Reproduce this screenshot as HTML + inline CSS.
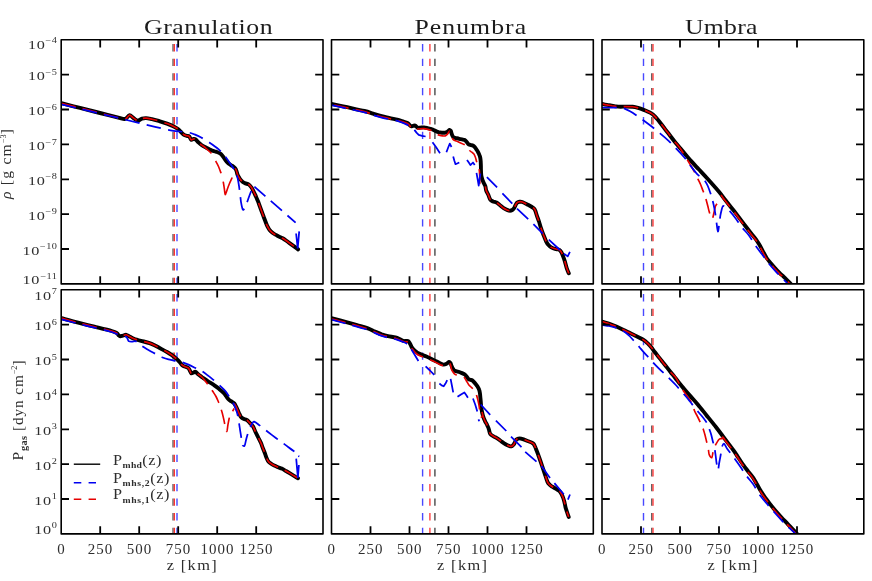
<!DOCTYPE html>
<html><head><meta charset="utf-8"><title>plot</title>
<style>html,body{margin:0;padding:0;background:#fff;}svg{display:block;will-change:transform;}</style></head>
<body>
<svg width="872" height="581" viewBox="0 0 872 581">
<rect width="872" height="581" fill="#fff"/>
<defs>
<clipPath id="c00"><rect x="61.2" y="39.8" width="261.8" height="244.1"/></clipPath>
<clipPath id="c01"><rect x="61.2" y="289.8" width="261.8" height="244.1"/></clipPath>
<clipPath id="c10"><rect x="331.5" y="39.8" width="261.8" height="244.1"/></clipPath>
<clipPath id="c11"><rect x="331.5" y="289.8" width="261.8" height="244.1"/></clipPath>
<clipPath id="c20"><rect x="602.0" y="39.8" width="261.8" height="244.1"/></clipPath>
<clipPath id="c21"><rect x="602.0" y="289.8" width="261.8" height="244.1"/></clipPath>
</defs>
<g clip-path="url(#c00)" fill="none" stroke-linejoin="round">
<path d="M173.0,44.1 V283.9" stroke="#5a5a5a" stroke-width="1.3" stroke-dasharray="7.3 7.3"/>
<path d="M174.3,44.1 V283.9" stroke="#ff1a1a" stroke-width="1.2" stroke-dasharray="7.3 7.3"/>
<path d="M177.0,44.1 V283.9" stroke="#4848ff" stroke-width="1.4" stroke-dasharray="7.3 7.3"/>
<path d="M61.4,103.2 C64.5,104.0 73.6,106.3 80.0,107.9 C86.4,109.5 93.3,111.3 100.0,113.0 C106.7,114.7 116.2,117.2 120.3,118.2 C124.4,119.2 123.5,119.0 124.5,119.0 C125.5,119.0 125.5,119.1 126.3,118.4 C127.1,117.8 128.5,115.2 129.6,115.1 C130.7,115.0 131.9,116.8 133.0,117.6 C134.1,118.4 135.2,119.4 136.0,119.9 C136.8,120.5 137.3,120.9 137.9,120.9 C138.5,120.9 138.8,120.4 139.5,120.0 C140.2,119.6 140.9,118.9 142.0,118.6 C143.1,118.3 144.4,118.0 146.1,118.1 C147.8,118.2 149.7,118.7 152.0,119.2 C154.3,119.7 157.4,120.6 159.9,121.3 C162.4,122.0 164.7,122.7 167.0,123.6 C169.3,124.5 171.9,125.6 173.7,126.5 C175.5,127.4 176.9,128.2 178.0,129.0 C179.1,129.8 179.5,130.5 180.5,131.5 C181.5,132.5 182.9,134.1 184.0,134.8 C185.1,135.5 186.0,135.5 186.9,135.8 C187.8,136.1 188.5,135.7 189.2,136.4 C189.9,137.1 190.5,139.4 191.2,139.8 C191.9,140.2 192.8,139.1 193.5,139.0 C194.2,138.9 194.8,138.8 195.5,139.3 C196.2,139.8 197.0,141.1 198.0,142.0 C199.0,142.9 200.2,144.1 201.5,145.0 C202.8,145.9 204.4,146.7 206.0,147.5 C207.6,148.3 209.3,149.4 211.0,150.1 C212.7,150.8 214.4,151.1 216.0,151.7 C217.6,152.3 219.2,152.8 220.4,153.6 C221.6,154.4 222.1,155.4 223.0,156.5 C223.9,157.6 224.8,159.3 225.6,160.4 C226.4,161.5 227.1,162.2 228.0,163.0 C228.9,163.8 230.0,164.5 230.8,165.1 C231.6,165.7 232.3,165.8 233.0,166.3 C233.7,166.8 234.5,167.4 235.1,168.2 C235.7,169.0 236.1,169.8 236.5,171.0 C236.9,172.2 237.1,173.8 237.7,175.1 C238.3,176.4 239.2,177.8 240.0,179.0 C240.8,180.2 241.9,181.3 242.8,182.0 C243.7,182.7 244.5,183.0 245.5,183.4 C246.5,183.8 247.8,183.8 248.8,184.5 C249.8,185.2 250.6,186.2 251.5,187.5 C252.4,188.8 253.2,190.8 254.0,192.3 C254.8,193.8 255.3,195.1 256.0,196.6 C256.6,198.1 257.2,199.4 257.9,201.1 C258.6,202.8 259.3,205.0 260.0,206.8 C260.7,208.7 261.3,210.4 262.0,212.2 C262.7,214.0 263.3,215.9 264.0,217.7 C264.7,219.5 265.5,221.6 266.1,223.2 C266.7,224.8 267.2,225.9 267.8,227.0 C268.4,228.1 268.8,229.0 269.6,230.0 C270.4,231.0 271.5,232.0 272.5,232.8 C273.5,233.6 274.7,234.3 275.8,234.9 C276.9,235.5 277.9,236.0 279.0,236.6 C280.1,237.2 281.5,237.7 282.7,238.3 C283.9,239.0 284.9,239.7 286.0,240.5 C287.1,241.3 287.5,241.6 289.5,243.1 C291.5,244.6 296.7,248.3 298.1,249.4" stroke="#000" stroke-width="3.9" stroke-linecap="round"/>
<path d="M61.4,103.2 C64.5,104.0 73.6,106.3 80.0,107.9 C86.4,109.5 93.3,111.3 100.0,113.0 C106.7,114.7 116.2,117.2 120.3,118.2 C124.4,119.2 123.5,119.0 124.5,119.0 C125.5,119.0 125.5,119.1 126.3,118.4 C127.1,117.8 128.5,115.2 129.6,115.1 C130.7,115.0 131.9,116.8 133.0,117.6 C134.1,118.4 135.2,119.4 136.0,119.9 C136.8,120.5 137.3,120.9 137.9,120.9 C138.5,120.9 138.8,120.4 139.5,120.0 C140.2,119.6 140.9,118.9 142.0,118.6 C143.1,118.3 144.4,118.0 146.1,118.1 C147.8,118.2 149.7,118.7 152.0,119.2 C154.3,119.7 157.4,120.6 159.9,121.3 C162.4,122.0 164.7,122.7 167.0,123.6 C169.3,124.5 171.9,125.6 173.7,126.5 C175.5,127.4 176.9,128.2 178.0,129.0 C179.1,129.8 179.5,130.5 180.5,131.5 C181.5,132.5 182.9,134.1 184.0,134.8 C185.1,135.5 186.0,135.5 186.9,135.8 C187.8,136.1 188.5,135.7 189.2,136.4 C189.9,137.1 190.5,139.4 191.2,139.8 C191.9,140.2 192.8,139.1 193.5,139.0 C194.2,138.9 194.8,138.8 195.5,139.3 C196.2,139.8 197.0,141.1 198.0,142.0 C199.0,142.9 200.9,144.5 201.5,145.0" stroke="#e60000" stroke-width="1.65" stroke-dasharray="14.6 7.3" stroke-dashoffset="0"/>
<path d="M235.1,168.2 C235.3,168.7 236.1,169.8 236.5,171.0 C236.9,172.2 237.1,173.8 237.7,175.1 C238.3,176.4 239.2,177.8 240.0,179.0 C240.8,180.2 241.9,181.3 242.8,182.0 C243.7,182.7 244.5,183.0 245.5,183.4 C246.5,183.8 247.8,183.8 248.8,184.5 C249.8,185.2 250.6,186.2 251.5,187.5 C252.4,188.8 253.2,190.8 254.0,192.3 C254.8,193.8 255.3,195.1 256.0,196.6 C256.6,198.1 257.2,199.4 257.9,201.1 C258.6,202.8 259.3,205.0 260.0,206.8 C260.7,208.7 261.3,210.4 262.0,212.2 C262.7,214.0 263.3,215.9 264.0,217.7 C264.7,219.5 265.5,221.6 266.1,223.2 C266.7,224.8 267.2,225.9 267.8,227.0 C268.4,228.1 268.8,229.0 269.6,230.0 C270.4,231.0 271.5,232.0 272.5,232.8 C273.5,233.6 274.7,234.3 275.8,234.9 C276.9,235.5 277.9,236.0 279.0,236.6 C280.1,237.2 281.5,237.7 282.7,238.3 C283.9,239.0 284.9,239.7 286.0,240.5 C287.1,241.3 287.5,241.6 289.5,243.1 C291.5,244.6 296.7,248.3 298.1,249.4" stroke="#e60000" stroke-width="1.65" stroke-dasharray="14.6 7.3" stroke-dashoffset="0"/>
<path d="M201.5,144.9 C202.2,145.5 204.3,146.9 206.0,148.3 C207.7,149.7 210.6,152.6 211.5,153.4 M215.6,161.0 C216.1,161.9 217.6,164.4 218.5,166.5 C219.4,168.6 220.7,172.2 221.1,173.3 M223.2,181.6 C223.4,182.8 224.0,186.3 224.3,188.5 C224.7,190.7 224.8,194.6 225.3,194.7 C225.8,194.8 226.6,191.1 227.3,189.2 C228.0,187.2 228.9,184.9 229.7,183.0 C230.5,181.1 231.8,178.4 232.2,177.5" stroke="#e60000" stroke-width="1.65"/>
<path d="M61.4,104.4 C64.5,105.1 73.6,107.3 80.0,108.8 C86.4,110.3 93.3,112.0 100.0,113.6 C106.7,115.2 113.3,116.8 120.0,118.4 C126.7,120.0 134.2,121.9 140.0,123.3 C145.8,124.7 150.8,125.8 155.0,126.8 C159.2,127.8 161.9,128.5 165.0,129.2 C168.1,129.9 171.2,130.4 173.7,130.8 C176.2,131.2 177.5,131.2 180.0,131.5 C182.5,131.8 186.3,132.1 188.6,132.5 C190.9,132.9 192.0,133.4 194.0,134.2 C196.0,135.0 198.1,135.8 200.7,137.2 C203.2,138.6 206.3,140.4 209.3,142.4 C212.3,144.4 216.0,146.9 218.7,149.3 C221.4,151.7 223.4,154.3 225.6,157.0 C227.8,159.7 230.0,163.3 231.6,165.6 C233.2,167.9 234.1,169.4 235.0,171.0 C235.9,172.6 236.3,173.4 236.8,175.1 C237.3,176.8 237.8,178.7 238.2,181.0 C238.6,183.3 239.1,186.3 239.4,188.8 C239.8,191.3 240.0,193.7 240.3,196.0 C240.6,198.3 240.7,200.3 241.1,202.6 C241.5,204.8 242.2,208.6 242.8,209.5 C243.4,210.4 244.0,209.1 244.6,208.3 C245.2,207.5 245.7,205.9 246.2,204.6 C246.7,203.3 247.2,201.9 247.7,200.5 C248.2,199.1 248.7,197.6 249.3,196.0 C249.9,194.4 250.9,191.8 251.2,191.0" stroke="#0000f0" stroke-width="1.75" stroke-dasharray="14.6 7.3" stroke-dashoffset="0"/>
<path d="M254.4,186.7 C256.2,188.3 260.9,192.3 265.5,196.3 C270.1,200.3 277.0,206.3 282.0,210.7 C287.0,215.1 293.3,220.7 295.6,222.7" stroke="#0000f0" stroke-width="1.75" stroke-dasharray="14.6 7.3" stroke-dashoffset="0"/>
<path d="M296.1,233.5 L297.7,248.4 M299.2,231.4 L297.7,248.4" stroke="#0000f0" stroke-width="1.75"/>
</g>
<g clip-path="url(#c01)" fill="none" stroke-linejoin="round">
<path d="M173.0,294.1 V533.9" stroke="#5a5a5a" stroke-width="1.3" stroke-dasharray="7.3 7.3"/>
<path d="M174.3,294.1 V533.9" stroke="#ff1a1a" stroke-width="1.2" stroke-dasharray="7.3 7.3"/>
<path d="M177.0,294.1 V533.9" stroke="#4848ff" stroke-width="1.4" stroke-dasharray="7.3 7.3"/>
<path d="M61.4,318.1 C64.0,318.8 71.7,321.0 77.2,322.4 C82.7,323.8 88.7,325.3 94.4,326.7 C100.2,328.1 108.0,329.9 111.7,331.0 C115.4,332.1 115.7,332.4 116.8,333.1 C117.9,333.8 117.9,334.7 118.5,335.2 C119.1,335.7 119.5,336.1 120.3,336.2 C121.0,336.3 122.0,335.8 123.0,335.6 C124.0,335.4 125.1,334.6 126.3,334.8 C127.5,335.0 128.7,336.2 130.0,336.8 C131.3,337.4 132.2,338.0 134.0,338.7 C135.8,339.4 138.4,340.1 141.0,340.8 C143.6,341.5 147.2,342.3 149.5,343.1 C151.8,343.9 153.0,344.6 155.0,345.6 C157.0,346.6 159.6,348.0 161.6,349.1 C163.6,350.2 165.3,351.0 167.0,352.0 C168.7,353.0 170.5,354.1 171.9,355.1 C173.3,356.1 174.3,357.0 175.5,358.0 C176.7,359.0 177.9,360.1 178.8,361.1 C179.7,362.1 180.3,363.0 181.0,363.8 C181.7,364.6 182.3,365.3 183.1,365.8 C183.9,366.3 184.7,366.4 185.6,366.8 C186.5,367.2 187.6,367.4 188.3,368.0 C189.0,368.6 189.3,369.6 189.8,370.5 C190.3,371.4 190.6,372.9 191.2,373.3 C191.8,373.7 192.7,372.9 193.4,372.6 C194.1,372.4 194.7,371.5 195.5,371.8 C196.3,372.1 197.3,373.6 198.5,374.5 C199.7,375.4 200.8,376.4 202.4,377.5 C204.0,378.6 206.0,380.0 208.0,381.3 C210.0,382.6 212.6,384.1 214.4,385.3 C216.2,386.6 217.4,387.5 219.0,388.8 C220.6,390.1 222.7,391.8 223.9,393.0 C225.1,394.2 225.3,395.0 226.0,396.0 C226.7,397.0 227.4,398.1 228.2,399.0 C229.0,399.9 230.0,400.5 231.0,401.2 C232.0,401.9 233.4,402.5 234.2,403.4 C235.0,404.3 235.4,405.4 236.0,406.5 C236.6,407.6 237.1,408.9 237.7,410.2 C238.3,411.4 238.8,412.9 239.4,414.0 C240.0,415.1 240.3,416.3 241.1,417.1 C241.9,417.9 243.0,418.5 244.0,419.0 C245.0,419.5 246.1,419.5 247.1,420.2 C248.1,420.9 249.0,422.0 250.0,423.1 C251.0,424.2 252.2,425.1 253.1,426.6 C254.0,428.1 254.7,430.3 255.5,432.0 C256.3,433.7 257.1,435.1 258.0,437.0 C258.9,438.9 260.2,441.2 261.0,443.1 C261.8,445.0 262.3,446.7 263.0,448.5 C263.7,450.3 264.6,452.4 265.2,454.1 C265.8,455.8 266.2,457.2 266.8,458.5 C267.4,459.8 267.8,460.8 268.6,461.7 C269.4,462.6 270.5,463.3 271.5,464.0 C272.5,464.7 273.7,465.3 274.8,465.8 C275.9,466.3 276.9,466.7 278.0,467.2 C279.1,467.7 280.4,468.0 281.7,468.6 C283.0,469.2 284.6,470.2 286.0,471.0 C287.4,471.8 288.7,472.6 290.0,473.4 C291.3,474.2 292.7,475.0 294.0,475.8 C295.3,476.6 297.3,477.8 298.0,478.2" stroke="#000" stroke-width="3.9" stroke-linecap="round"/>
<path d="M61.4,318.1 C64.0,318.8 71.7,321.0 77.2,322.4 C82.7,323.8 88.7,325.3 94.4,326.7 C100.2,328.1 108.0,329.9 111.7,331.0 C115.4,332.1 115.7,332.4 116.8,333.1 C117.9,333.8 117.9,334.7 118.5,335.2 C119.1,335.7 119.5,336.1 120.3,336.2 C121.0,336.3 122.0,335.8 123.0,335.6 C124.0,335.4 125.1,334.6 126.3,334.8 C127.5,335.0 128.7,336.2 130.0,336.8 C131.3,337.4 132.2,338.0 134.0,338.7 C135.8,339.4 138.4,340.1 141.0,340.8 C143.6,341.5 147.2,342.3 149.5,343.1 C151.8,343.9 153.0,344.6 155.0,345.6 C157.0,346.6 159.6,348.0 161.6,349.1 C163.6,350.2 165.3,351.0 167.0,352.0 C168.7,353.0 170.5,354.1 171.9,355.1 C173.3,356.1 174.3,357.0 175.5,358.0 C176.7,359.0 177.9,360.1 178.8,361.1 C179.7,362.1 180.3,363.0 181.0,363.8 C181.7,364.6 182.3,365.3 183.1,365.8 C183.9,366.3 184.7,366.4 185.6,366.8 C186.5,367.2 187.6,367.4 188.3,368.0 C189.0,368.6 189.3,369.6 189.8,370.5 C190.3,371.4 190.6,372.9 191.2,373.3 C191.8,373.7 192.7,372.9 193.4,372.6 C194.1,372.4 194.7,371.5 195.5,371.8 C196.3,372.1 197.3,373.6 198.5,374.5 C199.7,375.4 200.9,375.9 202.4,377.5 C203.9,379.1 205.8,381.7 207.5,384.0 C209.2,386.3 211.3,389.2 212.7,391.3 C214.1,393.4 215.0,394.6 216.0,396.5 C217.0,398.4 217.9,400.7 218.7,402.5 C219.4,404.3 219.9,405.8 220.5,407.5 C221.1,409.2 221.7,410.9 222.2,412.8 C222.7,414.7 223.2,416.9 223.7,419.0 C224.2,421.1 224.6,423.6 225.1,425.7 C225.6,427.8 226.3,431.6 226.8,431.5 C227.3,431.4 227.5,427.1 227.9,425.0 C228.3,422.9 228.7,420.6 229.1,418.8 C229.5,417.1 230.0,415.7 230.6,414.5 C231.2,413.3 231.8,412.5 232.4,411.5 C233.0,410.5 233.9,409.0 234.2,408.5" stroke="#e60000" stroke-width="1.65" stroke-dasharray="14.6 7.3" stroke-dashoffset="0"/>
<path d="M234.2,403.4 C234.5,403.9 235.4,405.4 236.0,406.5 C236.6,407.6 237.1,408.9 237.7,410.2 C238.3,411.4 238.8,412.9 239.4,414.0 C240.0,415.1 240.3,416.3 241.1,417.1 C241.9,417.9 243.0,418.5 244.0,419.0 C245.0,419.5 246.1,419.5 247.1,420.2 C248.1,420.9 249.0,422.0 250.0,423.1 C251.0,424.2 252.2,425.1 253.1,426.6 C254.0,428.1 254.7,430.3 255.5,432.0 C256.3,433.7 257.1,435.1 258.0,437.0 C258.9,438.9 260.2,441.2 261.0,443.1 C261.8,445.0 262.3,446.7 263.0,448.5 C263.7,450.3 264.6,452.4 265.2,454.1 C265.8,455.8 266.2,457.2 266.8,458.5 C267.4,459.8 267.8,460.8 268.6,461.7 C269.4,462.6 270.5,463.3 271.5,464.0 C272.5,464.7 273.7,465.3 274.8,465.8 C275.9,466.3 276.9,466.7 278.0,467.2 C279.1,467.7 280.4,468.0 281.7,468.6 C283.0,469.2 284.6,470.2 286.0,471.0 C287.4,471.8 288.7,472.6 290.0,473.4 C291.3,474.2 292.7,475.0 294.0,475.8 C295.3,476.6 297.3,477.8 298.0,478.2" stroke="#e60000" stroke-width="1.65" stroke-dasharray="14.6 7.3" stroke-dashoffset="0"/>
<path d="M61.4,319.3 C64.0,320.0 71.7,322.0 77.2,323.4 C82.7,324.8 88.7,326.3 94.4,327.7 C100.2,329.1 108.0,330.9 111.7,332.0 C115.4,333.1 115.1,333.4 116.8,334.0 C118.5,334.6 120.4,334.8 122.0,335.3 C123.6,335.8 125.3,336.3 126.3,337.0 C127.3,337.7 127.4,338.8 127.8,339.5 C128.2,340.2 128.2,340.9 128.9,341.3 C129.6,341.7 130.8,341.6 132.0,341.6 C133.2,341.6 134.6,341.0 135.8,341.3 C137.0,341.6 137.8,342.8 139.0,343.7 C140.2,344.6 141.2,345.5 142.7,346.5 C144.2,347.5 146.3,348.7 148.0,349.7 C149.7,350.7 151.3,351.6 153.0,352.5 C154.7,353.4 156.3,354.3 158.0,355.2 C159.7,356.1 161.6,357.0 163.3,357.7 C165.1,358.4 166.8,358.9 168.5,359.4 C170.2,359.9 172.0,360.2 173.7,360.6 C175.4,361.0 177.2,361.3 178.8,361.6 C180.4,361.9 181.8,362.1 183.4,362.6 C185.0,363.1 186.8,363.8 188.5,364.6 C190.2,365.4 192.2,366.4 193.8,367.2 C195.4,368.0 196.6,368.5 198.0,369.2 C199.4,369.9 200.8,370.5 202.4,371.5 C204.0,372.5 205.8,373.9 207.5,375.2 C209.2,376.5 210.8,377.7 212.7,379.3 C214.6,380.9 217.0,383.0 219.0,384.8 C221.0,386.6 223.1,388.4 224.8,390.4 C226.6,392.4 228.1,394.8 229.5,397.0 C230.9,399.2 232.3,401.4 233.4,403.4 C234.5,405.4 235.1,407.0 235.8,409.0 C236.5,411.0 237.2,413.1 237.7,415.4 C238.2,417.7 238.6,420.4 239.0,423.0 C239.4,425.6 239.8,428.4 240.2,430.9 C240.6,433.4 241.0,435.7 241.3,438.0 C241.7,440.3 241.8,443.4 242.3,444.7 C242.8,446.0 243.9,446.4 244.5,445.8 C245.1,445.2 245.4,442.6 245.8,441.0 C246.2,439.4 246.6,437.8 247.1,436.1 C247.6,434.4 248.2,432.6 248.8,431.0 C249.4,429.4 250.0,427.9 250.6,426.6 C251.2,425.4 251.7,424.3 252.3,423.5 C252.9,422.7 252.9,421.4 254.1,421.7 C255.3,422.0 257.3,423.7 259.6,425.4 C261.9,427.1 265.2,429.9 268.0,432.0 C270.8,434.1 273.4,436.1 276.2,438.2 C279.0,440.3 282.0,442.4 285.0,444.6 C288.0,446.8 292.8,450.4 294.4,451.5" stroke="#0000f0" stroke-width="1.75" stroke-dasharray="14.6 7.3" stroke-dashoffset="0"/>
<path d="M298.3,455.9 L299.3,456.5 M296.2,458.6 L297.9,477.8 M298.9,465.0 L297.9,477.8" stroke="#0000f0" stroke-width="1.75"/>
</g>
<g clip-path="url(#c10)" fill="none" stroke-linejoin="round">
<path d="M422.6,44.1 V283.9" stroke="#4848ff" stroke-width="1.4" stroke-dasharray="7.3 7.3"/>
<path d="M429.9,44.1 V283.9" stroke="#ff4d4d" stroke-width="1.5" stroke-dasharray="7.3 7.3"/>
<path d="M434.9,44.1 V283.9" stroke="#686868" stroke-width="1.7" stroke-dasharray="7.3 7.3"/>
<path d="M331.4,103.8 C334.0,104.4 341.7,106.0 347.2,107.2 C352.7,108.4 360.1,109.9 364.4,111.0 C368.7,112.1 370.1,112.7 373.0,113.6 C375.9,114.5 379.0,115.5 381.7,116.2 C384.4,116.9 386.4,117.3 389.0,117.9 C391.6,118.5 395.0,119.1 397.2,119.6 C399.4,120.1 400.3,120.5 402.0,121.1 C403.7,121.7 406.3,122.4 407.5,123.0 C408.7,123.6 408.8,124.3 409.4,124.8 C410.0,125.3 410.3,126.0 410.9,126.2 C411.5,126.4 412.3,126.0 413.0,125.9 C413.7,125.8 414.6,125.4 415.2,125.6 C415.8,125.8 416.2,126.4 416.6,126.8 C417.0,127.2 417.2,127.8 417.8,127.9 C418.4,128.0 419.5,127.7 420.5,127.6 C421.5,127.5 422.7,127.3 423.9,127.4 C425.1,127.5 426.2,127.8 427.5,128.1 C428.8,128.4 430.4,128.7 431.6,129.1 C432.9,129.5 433.9,130.1 435.0,130.6 C436.1,131.1 437.3,131.8 438.5,132.2 C439.7,132.5 440.9,132.6 442.0,132.7 C443.1,132.8 444.5,132.8 445.4,132.6 C446.3,132.4 446.8,132.0 447.5,131.6 C448.2,131.2 448.9,130.1 449.4,130.0 C449.9,129.9 450.3,130.3 450.7,130.8 C451.1,131.3 451.2,132.4 451.5,133.2 C451.8,134.0 452.0,134.9 452.4,135.6 C452.8,136.3 453.0,136.9 453.6,137.3 C454.2,137.7 455.1,137.8 456.0,138.1 C456.9,138.3 458.2,138.6 459.2,138.8 C460.2,139.0 461.1,139.2 462.0,139.4 C462.9,139.6 464.0,139.7 464.8,140.1 C465.6,140.5 466.0,141.2 466.6,141.8 C467.2,142.4 467.6,143.4 468.2,143.9 C468.8,144.4 469.7,144.7 470.5,145.0 C471.3,145.3 472.3,145.2 473.0,145.6 C473.7,145.9 474.2,146.5 474.7,147.1 C475.2,147.7 475.7,148.3 476.1,148.9 C476.6,149.5 477.0,150.2 477.4,150.9 C477.8,151.6 478.1,152.3 478.5,153.0 C478.9,153.7 479.2,154.4 479.5,155.2 C479.8,155.9 480.0,156.5 480.2,157.5 C480.4,158.5 480.6,159.9 480.7,161.3 C480.8,162.7 480.8,164.4 480.9,166.0 C480.9,167.6 480.9,169.4 481.0,171.0 C481.1,172.6 481.1,174.2 481.3,175.5 C481.5,176.8 481.8,177.6 482.0,178.5 C482.2,179.4 482.5,180.0 482.8,180.8 C483.1,181.6 483.6,182.6 484.0,183.5 C484.4,184.4 485.0,185.1 485.4,186.3 C485.8,187.5 485.7,189.1 486.2,190.5 C486.7,191.9 487.6,193.3 488.3,194.8 C489.0,196.3 489.5,198.5 490.3,199.6 C491.1,200.7 492.0,200.9 493.0,201.4 C494.0,201.9 495.3,202.0 496.5,202.6 C497.7,203.2 498.8,204.3 500.0,205.2 C501.2,206.1 502.5,207.4 503.7,208.2 C504.9,209.0 506.0,209.5 507.0,209.9 C508.0,210.3 509.0,210.7 509.9,210.7 C510.8,210.7 511.6,210.4 512.3,210.0 C513.0,209.6 513.5,209.0 514.1,208.2 C514.7,207.4 515.1,205.9 515.6,205.0 C516.1,204.1 516.6,203.1 517.2,202.6 C517.9,202.1 518.6,201.9 519.5,201.8 C520.4,201.7 520.9,201.5 522.3,202.0 C523.7,202.5 526.1,203.8 528.0,204.8 C529.9,205.8 532.5,207.2 533.7,208.2 C534.9,209.2 534.9,209.8 535.4,211.0 C535.9,212.2 536.2,213.7 536.8,215.4 C537.4,217.2 538.3,219.4 539.0,221.5 C539.7,223.6 540.1,225.6 540.9,227.8 C541.6,230.1 542.6,232.8 543.5,235.0 C544.4,237.2 545.3,239.6 546.1,241.3 C546.9,243.0 547.6,244.0 548.5,245.0 C549.4,246.0 550.2,246.8 551.3,247.4 C552.4,248.0 553.8,248.5 555.0,248.8 C556.2,249.2 557.6,249.2 558.5,249.5 C559.4,249.8 559.7,250.1 560.2,250.6 C560.7,251.1 561.1,251.6 561.6,252.6 C562.1,253.6 562.7,255.1 563.2,256.5 C563.7,257.9 564.1,259.0 564.7,260.9 C565.3,262.8 566.0,266.0 566.7,268.1 C567.4,270.2 568.4,272.4 568.8,273.3" stroke="#000" stroke-width="3.9" stroke-linecap="round"/>
<path d="M331.4,104.4 C334.0,105.0 341.7,106.6 347.2,107.8 C352.7,109.0 358.6,110.1 364.4,111.6 C370.1,113.1 376.2,115.4 381.7,116.8 C387.2,118.2 392.9,119.1 397.2,120.2 C401.5,121.3 405.2,122.5 407.5,123.6 C409.8,124.7 409.6,126.3 410.9,126.8 C412.2,127.2 414.0,125.9 415.2,126.3 C416.4,126.7 416.4,128.5 417.8,128.9 C419.2,129.3 421.6,128.3 423.9,128.6 C426.2,128.9 429.5,129.7 431.6,130.6 C433.8,131.5 435.2,133.4 436.8,134.2 C438.4,135.0 439.7,135.3 441.0,135.6 C442.3,135.9 443.6,136.1 444.5,136.0 C445.4,135.9 445.9,135.4 446.5,135.0 C447.1,134.6 447.5,134.1 448.0,133.4 C448.5,132.7 449.1,131.0 449.6,131.0 C450.1,131.0 450.6,132.1 451.2,133.5 C451.8,134.9 452.0,138.0 453.1,139.4 C454.2,140.8 456.1,140.9 458.0,141.8 C459.9,142.7 463.2,143.8 464.8,144.8 C466.4,145.8 466.5,146.7 467.3,147.6 C468.1,148.5 468.9,149.7 469.6,150.5 C470.4,151.3 471.1,151.6 471.8,152.2 C472.5,152.8 473.1,153.0 473.7,153.8 C474.3,154.6 474.8,155.8 475.3,157.0 C475.8,158.2 476.1,159.9 476.5,161.3 C476.9,162.7 477.6,164.1 478.0,165.5 C478.4,166.9 478.9,167.8 479.2,169.5 C479.5,171.2 479.6,173.8 479.7,176.0 C479.8,178.2 479.5,181.7 479.9,183.0 C480.3,184.3 481.3,183.5 482.0,184.0 C482.7,184.5 483.8,185.5 484.1,185.8" stroke="#e60000" stroke-width="1.65" stroke-dasharray="14.6 7.3" stroke-dashoffset="-3"/>
<path d="M485.4,186.3 C485.5,187.0 485.7,189.1 486.2,190.5 C486.7,191.9 487.6,193.3 488.3,194.8 C489.0,196.3 489.5,198.5 490.3,199.6 C491.1,200.7 492.0,200.9 493.0,201.4 C494.0,201.9 495.3,202.0 496.5,202.6 C497.7,203.2 498.8,204.3 500.0,205.2 C501.2,206.1 502.5,207.4 503.7,208.2 C504.9,209.0 506.0,209.5 507.0,209.9 C508.0,210.3 509.0,210.7 509.9,210.7 C510.8,210.7 511.6,210.4 512.3,210.0 C513.0,209.6 513.5,209.0 514.1,208.2 C514.7,207.4 515.1,205.9 515.6,205.0 C516.1,204.1 516.6,203.1 517.2,202.6 C517.9,202.1 518.6,201.9 519.5,201.8 C520.4,201.7 520.9,201.5 522.3,202.0 C523.7,202.5 526.1,203.8 528.0,204.8 C529.9,205.8 532.5,207.2 533.7,208.2 C534.9,209.2 534.9,209.8 535.4,211.0 C535.9,212.2 536.2,213.7 536.8,215.4 C537.4,217.2 538.3,219.4 539.0,221.5 C539.7,223.6 540.1,225.6 540.9,227.8 C541.6,230.1 542.6,232.8 543.5,235.0 C544.4,237.2 545.3,239.6 546.1,241.3 C546.9,243.0 547.6,244.0 548.5,245.0 C549.4,246.0 550.2,246.8 551.3,247.4 C552.4,248.0 553.8,248.5 555.0,248.8 C556.2,249.2 557.6,249.2 558.5,249.5 C559.4,249.8 559.7,250.1 560.2,250.6 C560.7,251.1 561.1,251.6 561.6,252.6 C562.1,253.6 562.7,255.1 563.2,256.5 C563.7,257.9 564.1,259.0 564.7,260.9 C565.3,262.8 566.0,266.0 566.7,268.1 C567.4,270.2 568.4,272.4 568.8,273.3" stroke="#e60000" stroke-width="1.65" stroke-dasharray="14.6 7.3" stroke-dashoffset="0"/>
<path d="M331.4,105.1 C334.0,105.7 341.7,107.4 347.2,108.6 C352.7,109.8 358.6,110.9 364.4,112.4 C370.1,113.9 375.9,116.1 381.7,117.6 C387.4,119.1 394.4,120.0 398.9,121.3 C403.3,122.6 406.8,124.7 408.4,125.4" stroke="#0000f0" stroke-width="1.75" stroke-dasharray="14.6 7.3" stroke-dashoffset="0"/>
<path d="M414.4,129.9 L416.5,132.6 L418.7,134.8 L422.0,135.9 L425.6,136.5 M432.5,142.2 L436.3,147.6 L440.0,153.2 M446.4,152.2 L448.2,147.5 L449.8,143.6 L451.5,147.0 M453.2,156.5 L454.3,160.5 L455.5,164.2 L459.3,162.5 M467.0,159.9 L468.8,162.6 L470.4,165.1 L473.0,162.5 L474.7,165.1 M476.5,172.8 L477.6,179.0 L478.7,185.7 L479.6,179.0 L480.4,173.5 M486.9,177.2 L497.1,187.4 M502.4,193.4 L512.3,203.7 M517.0,208.7 L528.2,219.1 M533.4,224.2 L542.8,233.7 M548.8,239.7 L560.0,250.0 M564.0,253.8 L567.7,256.4 L569.9,251.8" stroke="#0000f0" stroke-width="1.75"/>
</g>
<g clip-path="url(#c11)" fill="none" stroke-linejoin="round">
<path d="M422.6,294.1 V533.9" stroke="#4848ff" stroke-width="1.4" stroke-dasharray="7.3 7.3"/>
<path d="M429.9,294.1 V533.9" stroke="#ff4d4d" stroke-width="1.5" stroke-dasharray="7.3 7.3"/>
<path d="M434.9,294.1 V533.9" stroke="#686868" stroke-width="1.7" stroke-dasharray="7.3 7.3"/>
<path d="M331.4,318.1 C334.0,318.8 342.9,321.2 347.2,322.4 C351.5,323.6 353.6,324.2 357.0,325.2 C360.4,326.2 364.9,327.3 367.9,328.4 C370.9,329.5 372.7,330.6 375.0,331.6 C377.3,332.6 379.5,333.6 381.7,334.4 C383.9,335.1 385.7,335.6 388.0,336.1 C390.3,336.6 393.4,337.0 395.4,337.5 C397.4,338.0 398.6,338.7 400.0,339.3 C401.4,339.9 402.9,340.7 404.0,341.0 C405.1,341.3 405.7,340.9 406.4,341.0 C407.1,341.1 407.8,340.8 408.4,341.3 C409.0,341.8 409.6,343.0 410.2,344.0 C410.8,345.0 411.1,346.3 411.8,347.4 C412.5,348.5 413.5,349.5 414.5,350.4 C415.5,351.3 416.6,352.2 417.8,353.0 C419.1,353.8 420.6,354.3 422.0,354.9 C423.4,355.5 424.8,355.8 426.4,356.5 C428.0,357.2 429.8,358.1 431.5,359.0 C433.2,359.9 435.4,360.9 436.8,361.6 C438.2,362.3 438.9,362.7 440.0,363.2 C441.1,363.7 442.6,364.5 443.7,364.6 C444.8,364.7 445.6,364.2 446.5,363.8 C447.4,363.4 448.2,362.1 448.9,362.0 C449.6,361.9 450.1,362.4 450.5,363.0 C450.9,363.6 451.1,364.9 451.5,365.8 C451.9,366.7 452.3,367.7 452.8,368.5 C453.3,369.3 453.7,370.2 454.4,370.7 C455.1,371.2 456.0,371.2 456.8,371.4 C457.6,371.6 458.4,371.7 459.3,372.0 C460.2,372.3 461.1,372.7 462.0,373.1 C462.9,373.5 464.0,373.9 464.8,374.5 C465.6,375.1 466.0,375.8 466.6,376.5 C467.2,377.2 467.6,378.2 468.2,378.8 C468.8,379.4 469.6,379.5 470.3,379.8 C471.0,380.1 471.6,379.9 472.3,380.4 C473.0,380.9 473.8,381.8 474.5,382.6 C475.2,383.4 475.9,384.3 476.5,385.1 C477.1,385.9 477.6,386.5 478.0,387.3 C478.4,388.1 478.9,388.9 479.2,389.9 C479.5,390.8 479.7,391.9 479.9,393.0 C480.1,394.1 480.2,395.5 480.3,396.8 C480.4,398.1 480.6,399.6 480.7,401.0 C480.8,402.4 480.9,403.8 481.0,405.0 C481.1,406.2 481.2,407.4 481.4,408.5 C481.6,409.6 481.8,410.7 482.0,411.9 C482.2,413.1 482.6,414.4 482.9,415.5 C483.2,416.6 483.6,417.8 484.0,418.8 C484.4,419.8 484.8,420.8 485.3,421.7 C485.8,422.6 486.4,423.4 486.8,424.3 C487.2,425.2 487.6,426.2 488.0,427.0 C488.4,427.8 488.5,428.2 488.9,429.3 C489.3,430.4 489.4,432.6 490.2,433.8 C491.0,435.0 492.4,435.6 493.5,436.3 C494.6,437.0 495.7,437.4 496.9,438.1 C498.1,438.8 499.3,439.8 500.5,440.7 C501.7,441.6 502.9,442.6 504.1,443.4 C505.3,444.2 506.5,444.8 507.5,445.3 C508.5,445.8 509.3,446.2 510.1,446.3 C510.9,446.4 511.6,446.2 512.2,445.9 C512.8,445.6 513.2,445.2 513.7,444.6 C514.2,444.0 514.6,442.8 515.0,442.0 C515.4,441.2 515.6,440.4 516.1,439.8 C516.6,439.2 517.5,438.8 518.3,438.6 C519.1,438.4 519.5,438.2 521.0,438.6 C522.5,439.0 525.0,439.9 527.0,440.7 C529.0,441.5 531.7,442.4 533.0,443.4 C534.3,444.4 534.4,445.3 535.0,446.5 C535.6,447.7 535.9,448.9 536.6,450.6 C537.3,452.4 538.2,454.8 539.0,457.0 C539.8,459.2 540.5,461.2 541.4,463.9 C542.3,466.6 543.5,470.0 544.5,473.0 C545.5,476.0 546.6,479.9 547.5,481.9 C548.4,483.9 549.0,484.0 549.8,484.8 C550.6,485.6 551.3,486.0 552.3,486.7 C553.3,487.4 554.8,488.2 556.0,488.9 C557.2,489.6 558.6,490.2 559.5,491.1 C560.4,492.0 560.9,492.9 561.5,494.0 C562.1,495.1 562.6,496.3 563.1,497.6 C563.6,498.9 564.0,500.4 564.4,502.0 C564.8,503.6 565.1,505.5 565.5,507.2 C565.9,508.9 566.5,510.4 567.0,512.0 C567.5,513.6 568.4,516.1 568.7,516.9" stroke="#000" stroke-width="3.9" stroke-linecap="round"/>
<path d="M331.4,318.7 C334.0,319.4 341.1,321.3 347.2,323.0 C353.3,324.7 362.1,327.0 367.9,329.0 C373.6,331.0 377.1,333.5 381.7,335.0 C386.3,336.5 391.7,337.1 395.4,338.2 C399.1,339.3 401.8,341.1 404.0,341.8 C406.2,342.5 407.1,341.2 408.4,342.3 C409.7,343.4 410.2,346.5 411.8,348.6 C413.4,350.7 415.4,353.2 417.8,354.8 C420.2,356.4 423.8,357.1 426.4,358.2 C429.0,359.2 431.4,360.2 433.3,361.1 C435.2,362.0 436.6,362.9 438.0,363.6 C439.4,364.3 440.6,365.2 441.9,365.4 C443.2,365.6 444.8,365.4 446.0,365.0 C447.2,364.6 448.1,363.0 448.9,363.0 C449.7,363.0 450.2,363.9 450.6,365.0 C451.0,366.1 451.1,368.1 451.5,369.3 C451.9,370.5 452.4,371.1 453.0,372.0 C453.6,372.9 454.0,373.8 455.0,374.4 C456.0,375.0 457.6,375.1 459.0,375.5 C460.4,375.9 462.4,376.2 463.6,377.0 C464.8,377.8 465.4,379.2 466.2,380.5 C467.0,381.8 467.9,383.6 468.7,384.7 C469.5,385.8 470.3,386.3 471.0,387.0 C471.7,387.7 472.4,388.2 473.0,389.0 C473.6,389.8 474.2,390.8 474.8,391.8 C475.4,392.8 476.0,393.7 476.5,395.1 C477.0,396.5 477.5,398.3 477.9,400.0 C478.3,401.7 478.7,403.7 479.0,405.4 C479.3,407.1 479.5,408.6 479.6,410.0 C479.8,411.4 479.6,412.8 479.9,414.0 C480.2,415.2 481.1,416.7 481.5,417.0 C481.9,417.3 482.3,415.9 482.5,415.7" stroke="#e60000" stroke-width="1.65" stroke-dasharray="14.6 7.3" stroke-dashoffset="0"/>
<path d="M482.0,411.9 C482.1,412.5 482.6,414.4 482.9,415.5 C483.2,416.6 483.6,417.8 484.0,418.8 C484.4,419.8 484.8,420.8 485.3,421.7 C485.8,422.6 486.4,423.4 486.8,424.3 C487.2,425.2 487.6,426.2 488.0,427.0 C488.4,427.8 488.5,428.2 488.9,429.3 C489.3,430.4 489.4,432.6 490.2,433.8 C491.0,435.0 492.4,435.6 493.5,436.3 C494.6,437.0 495.7,437.4 496.9,438.1 C498.1,438.8 499.3,439.8 500.5,440.7 C501.7,441.6 502.9,442.6 504.1,443.4 C505.3,444.2 506.5,444.8 507.5,445.3 C508.5,445.8 509.3,446.2 510.1,446.3 C510.9,446.4 511.6,446.2 512.2,445.9 C512.8,445.6 513.2,445.2 513.7,444.6 C514.2,444.0 514.6,442.8 515.0,442.0 C515.4,441.2 515.6,440.4 516.1,439.8 C516.6,439.2 517.5,438.8 518.3,438.6 C519.1,438.4 519.5,438.2 521.0,438.6 C522.5,439.0 525.0,439.9 527.0,440.7 C529.0,441.5 531.7,442.4 533.0,443.4 C534.3,444.4 534.4,445.3 535.0,446.5 C535.6,447.7 535.9,448.9 536.6,450.6 C537.3,452.4 538.2,454.8 539.0,457.0 C539.8,459.2 540.5,461.2 541.4,463.9 C542.3,466.6 543.5,470.0 544.5,473.0 C545.5,476.0 546.6,479.9 547.5,481.9 C548.4,483.9 549.0,484.0 549.8,484.8 C550.6,485.6 551.3,486.0 552.3,486.7 C553.3,487.4 554.8,488.2 556.0,488.9 C557.2,489.6 558.6,490.2 559.5,491.1 C560.4,492.0 560.9,492.9 561.5,494.0 C562.1,495.1 562.6,496.3 563.1,497.6 C563.6,498.9 564.0,500.4 564.4,502.0 C564.8,503.6 565.1,505.5 565.5,507.2 C565.9,508.9 566.5,510.4 567.0,512.0 C567.5,513.6 568.4,516.1 568.7,516.9" stroke="#e60000" stroke-width="1.65" stroke-dasharray="14.6 7.3" stroke-dashoffset="0"/>
<path d="M331.4,319.6 C334.0,320.3 341.1,322.2 347.2,323.9 C353.3,325.6 362.1,327.9 367.9,329.9 C373.6,331.9 377.1,334.4 381.7,335.9 C386.3,337.4 391.7,338.1 395.4,339.1 C399.1,340.2 402.1,341.4 404.0,342.2 C405.9,343.0 406.5,343.6 407.0,343.9" stroke="#0000f0" stroke-width="1.75" stroke-dasharray="14.6 7.3" stroke-dashoffset="0"/>
<path d="M411.3,349.3 L414.5,354.5 L418.4,361.0 M425.6,366.3 L430.0,370.5 L434.2,374.9 M439.4,383.5 L441.6,385.4 L443.7,386.3 L445.5,383.6 L447.2,380.2 M450.6,378.9 L451.9,385.5 L453.2,392.3 M457.5,396.8 L461.0,394.5 L464.4,392.5 L466.2,395.0 L467.9,397.7 M473.0,398.5 L475.2,404.5 L477.3,411.4 M478.5,419.4 L479.2,421.3 M480.7,404.5 L490.2,414.9 M495.9,420.6 L506.3,431.0 M511.0,436.7 L521.5,447.1 M525.2,451.8 L536.5,461.6 M541.5,465.9 L550.0,478.0 M554.4,483.1 L563.8,494.2 M567.9,499.6 L570.0,494.5" stroke="#0000f0" stroke-width="1.75"/>
</g>
<g clip-path="url(#c20)" fill="none" stroke-linejoin="round">
<path d="M643.5,44.1 V283.9" stroke="#4848ff" stroke-width="1.4" stroke-dasharray="7.3 7.3"/>
<path d="M651.8,44.1 V283.9" stroke="#5c5c5c" stroke-width="1.5" stroke-dasharray="7.3 7.3"/>
<path d="M653.0,44.1 V283.9" stroke="#ff4d4d" stroke-width="1.5" stroke-dasharray="7.3 7.3"/>
<path d="M602.1,103.8 C602.9,104.0 605.3,104.6 607.0,104.9 C608.7,105.2 610.6,105.5 612.1,105.8 C613.6,106.0 614.6,106.2 616.0,106.4 C617.4,106.6 619.0,106.7 620.7,106.7 C622.4,106.7 624.0,106.6 626.0,106.6 C628.0,106.6 630.7,106.6 632.7,106.8 C634.7,107.0 636.3,107.4 638.0,107.9 C639.7,108.4 641.5,109.0 643.1,109.6 C644.7,110.2 646.1,110.7 647.5,111.4 C648.9,112.1 650.6,112.8 651.7,113.6 C652.9,114.3 653.5,115.1 654.4,115.9 C655.2,116.7 655.7,117.3 656.8,118.6 C657.9,119.9 659.6,122.0 661.0,123.8 C662.4,125.6 664.0,127.7 665.4,129.6 C666.8,131.5 668.2,133.1 669.6,135.0 C671.0,136.9 672.3,138.6 674.0,140.8 C675.7,143.0 678.0,145.6 680.0,148.0 C682.0,150.4 684.3,153.2 686.1,155.3 C687.9,157.5 689.3,159.0 691.0,160.9 C692.7,162.8 694.8,165.1 696.4,166.8 C698.0,168.5 698.6,169.1 700.7,171.3 C702.8,173.5 706.4,177.4 708.9,180.2 C711.4,183.0 713.9,185.8 716.0,188.2 C718.1,190.6 719.8,192.6 721.3,194.6 C722.8,196.6 723.8,198.1 725.3,200.0 C726.8,201.9 728.3,203.8 730.0,206.0 C731.7,208.2 733.9,210.7 735.7,213.1 C737.5,215.5 739.3,217.9 741.0,220.2 C742.7,222.5 744.3,224.6 746.0,226.8 C747.7,229.0 749.3,231.0 751.0,233.2 C752.7,235.4 755.0,238.0 756.3,239.8 C757.6,241.6 758.1,242.6 759.0,244.0 C759.9,245.4 760.7,246.9 761.5,248.5 C762.3,250.1 763.1,251.7 764.0,253.3 C764.9,254.9 765.4,256.3 766.6,258.0 C767.8,259.7 769.6,261.8 771.0,263.5 C772.4,265.2 773.8,266.8 775.2,268.3 C776.6,269.9 778.1,271.4 779.5,272.8 C780.9,274.2 781.9,275.1 783.8,276.9 C785.7,278.7 789.3,282.4 790.7,283.8 C792.1,285.2 791.8,285.0 792.0,285.2" stroke="#000" stroke-width="3.9" stroke-linecap="round"/>
<path d="M602.1,103.8 C602.9,104.0 605.3,104.6 607.0,104.9 C608.7,105.2 610.6,105.5 612.1,105.8 C613.6,106.0 614.6,106.2 616.0,106.4 C617.4,106.6 619.0,106.7 620.7,106.7 C622.4,106.7 624.0,106.6 626.0,106.6 C628.0,106.6 630.7,106.6 632.7,106.8 C634.7,107.0 636.3,107.4 638.0,107.9 C639.7,108.4 641.5,109.0 643.1,109.6 C644.7,110.2 646.1,110.7 647.5,111.4 C648.9,112.1 650.6,112.8 651.7,113.6 C652.9,114.3 653.5,115.1 654.4,115.9 C655.2,116.7 655.7,117.3 656.8,118.6 C657.9,119.9 659.6,122.0 661.0,123.8 C662.4,125.6 664.0,127.7 665.4,129.6 C666.8,131.5 668.2,133.1 669.6,135.0 C671.0,136.9 672.3,138.6 674.0,140.8 C675.7,143.0 677.9,144.9 680.0,148.0 C682.1,151.1 685.1,156.4 686.9,159.2 C688.6,162.0 689.4,163.1 690.5,165.0 C691.6,166.9 692.9,169.1 693.8,170.7 C694.7,172.3 695.3,173.4 696.0,174.8 C696.7,176.2 697.3,177.6 698.1,179.3 C698.9,181.0 699.9,183.0 700.8,185.0 C701.6,187.0 702.5,189.6 703.2,191.3 C703.9,193.1 704.3,194.1 704.8,195.5 C705.3,196.9 705.7,198.2 706.2,199.9 C706.7,201.7 707.3,204.0 707.8,206.0 C708.3,208.0 708.8,210.3 709.3,212.0 C709.8,213.7 710.3,214.9 710.8,216.0 C711.3,217.1 711.9,219.1 712.4,218.6 C712.9,218.1 713.4,215.0 713.9,213.0 C714.4,211.0 714.9,208.1 715.3,206.8 C715.7,205.5 715.6,206.0 716.1,205.1 C716.6,204.2 717.7,202.5 718.5,201.5 C719.3,200.5 720.2,199.7 721.0,199.3 C721.8,198.9 723.1,199.1 723.5,199.0" stroke="#e60000" stroke-width="1.65" stroke-dasharray="14.6 7.3" stroke-dashoffset="0"/>
<path d="M721.0,195.1 C721.7,196.0 723.5,198.6 725.0,200.5 C726.5,202.4 728.0,204.3 729.7,206.5 C731.4,208.7 733.6,211.2 735.4,213.6 C737.2,216.0 739.0,218.4 740.7,220.7 C742.4,223.0 744.0,225.1 745.7,227.3 C747.4,229.5 749.0,231.5 750.7,233.7 C752.4,235.9 754.7,238.5 756.0,240.3 C757.3,242.1 757.8,243.1 758.7,244.5 C759.6,245.9 760.4,247.4 761.2,249.0 C762.0,250.6 762.9,252.2 763.7,253.8 C764.6,255.4 765.1,256.8 766.3,258.5 C767.5,260.2 769.3,262.3 770.7,264.0 C772.1,265.7 773.5,267.2 774.9,268.8 C776.3,270.4 777.8,271.9 779.2,273.3 C780.6,274.7 781.6,275.6 783.5,277.4 C785.4,279.2 789.0,282.9 790.4,284.3 C791.8,285.7 791.5,285.5 791.7,285.7" stroke="#e60000" stroke-width="1.65" stroke-dasharray="14.6 7.3" stroke-dashoffset="0"/>
<path d="M602.1,107.6 C603.4,107.6 607.5,107.5 610.0,107.5 C612.5,107.5 615.4,107.5 617.2,107.6 C619.0,107.7 619.9,107.8 621.0,107.9 C622.1,108.0 622.6,107.8 624.1,108.4 C625.6,109.0 628.0,110.2 630.0,111.3 C632.0,112.4 633.9,113.7 636.2,115.3 C638.5,116.9 641.4,118.8 644.0,120.7 C646.6,122.6 649.0,124.4 651.7,126.5 C654.4,128.6 657.1,131.0 660.0,133.4 C662.9,135.8 666.2,138.6 668.9,141.1 C671.6,143.6 673.4,145.7 676.0,148.4 C678.6,151.1 682.0,154.7 684.4,157.5 C686.8,160.3 688.2,162.6 690.3,165.4 C692.4,168.2 695.3,172.1 697.2,174.1 C699.1,176.1 700.2,176.3 701.5,177.5 C702.8,178.7 704.0,179.6 705.0,181.0 C706.0,182.4 706.9,184.1 707.8,186.0 C708.6,187.9 709.5,190.4 710.1,192.2 C710.7,193.9 711.1,195.1 711.5,196.5 C711.9,197.9 712.3,199.1 712.7,200.8 C713.1,202.6 713.7,204.8 714.1,207.0 C714.5,209.2 714.9,211.1 715.3,213.7 C715.7,216.2 716.1,219.3 716.5,222.3 C716.9,225.3 717.4,231.2 717.9,231.5 C718.4,231.8 718.8,226.7 719.2,224.0 C719.6,221.3 720.0,217.7 720.4,215.4 C720.8,213.1 721.2,211.6 721.6,210.0 C722.0,208.4 722.3,206.3 723.0,205.9 C723.7,205.5 725.0,206.9 726.0,207.6 C727.0,208.3 727.5,208.5 729.1,210.3 C730.8,212.2 733.9,216.0 735.9,218.7 C737.9,221.4 739.0,223.7 741.1,226.4 C743.2,229.2 746.5,232.2 748.8,235.2 C751.1,238.2 752.5,241.4 754.7,244.6 C756.9,247.8 759.6,251.1 762.0,254.3 C764.4,257.5 766.7,260.9 769.2,264.0 C771.7,267.1 774.2,269.8 777.0,272.8 C779.8,275.8 783.9,279.9 786.0,282.0 C788.1,284.1 788.9,284.8 789.5,285.3" stroke="#0000f0" stroke-width="1.75" stroke-dasharray="14.6 7.3" stroke-dashoffset="0"/>
</g>
<g clip-path="url(#c21)" fill="none" stroke-linejoin="round">
<path d="M643.5,294.1 V533.9" stroke="#4848ff" stroke-width="1.4" stroke-dasharray="7.3 7.3"/>
<path d="M651.8,294.1 V533.9" stroke="#5c5c5c" stroke-width="1.5" stroke-dasharray="7.3 7.3"/>
<path d="M653.0,294.1 V533.9" stroke="#ff4d4d" stroke-width="1.5" stroke-dasharray="7.3 7.3"/>
<path d="M602.1,321.5 C603.1,321.8 606.0,322.7 608.0,323.4 C610.0,324.1 611.9,324.7 613.8,325.5 C615.7,326.3 617.5,327.1 619.5,328.0 C621.5,328.9 623.4,329.8 625.8,331.0 C628.2,332.2 631.1,333.6 634.0,335.0 C636.9,336.4 640.9,338.2 643.1,339.6 C645.4,341.0 646.1,341.8 647.5,343.2 C648.9,344.6 650.6,346.5 651.7,347.8 C652.8,349.1 653.2,350.1 654.1,351.2 C655.0,352.3 655.5,352.9 656.8,354.6 C658.1,356.3 660.6,359.4 662.0,361.2 C663.4,363.0 663.9,363.7 665.4,365.5 C666.9,367.3 669.3,370.4 670.7,372.2 C672.1,374.0 672.9,374.9 674.0,376.3 C675.1,377.7 675.8,378.7 677.5,380.8 C679.2,382.9 682.1,386.5 684.4,389.2 C686.7,391.9 689.0,394.5 691.3,397.1 C693.6,399.7 695.6,401.9 698.2,405.0 C700.8,408.1 704.0,412.2 707.0,415.9 C710.0,419.6 713.5,423.9 716.1,427.2 C718.7,430.5 720.5,433.0 722.6,435.9 C724.8,438.8 727.1,441.9 729.0,444.4 C730.9,446.9 732.4,448.8 733.9,450.9 C735.4,453.0 736.2,454.4 737.8,456.8 C739.4,459.2 741.7,462.7 743.4,465.1 C745.1,467.5 746.4,469.1 748.0,471.2 C749.6,473.2 751.5,475.4 752.9,477.4 C754.3,479.4 755.2,481.2 756.5,483.4 C757.8,485.6 759.1,488.3 760.5,490.6 C761.9,492.9 763.4,495.1 765.0,497.3 C766.6,499.5 768.1,501.7 769.9,503.9 C771.6,506.1 773.6,508.5 775.5,510.7 C777.4,512.9 779.2,514.9 781.3,517.2 C783.4,519.5 785.5,521.7 788.0,524.4 C790.5,527.1 794.8,531.5 796.5,533.3 C798.2,535.1 797.8,534.7 798.0,535.0" stroke="#000" stroke-width="3.9" stroke-linecap="round"/>
<path d="M602.1,321.5 C603.1,321.8 606.0,322.7 608.0,323.4 C610.0,324.1 611.9,324.7 613.8,325.5 C615.7,326.3 617.5,327.1 619.5,328.0 C621.5,328.9 623.4,329.8 625.8,331.0 C628.2,332.2 631.1,333.6 634.0,335.0 C636.9,336.4 640.9,338.2 643.1,339.6 C645.4,341.0 646.1,341.8 647.5,343.2 C648.9,344.6 650.6,346.5 651.7,347.8 C652.8,349.1 653.2,350.1 654.1,351.2 C655.0,352.3 655.5,352.9 656.8,354.6 C658.1,356.3 660.6,359.4 662.0,361.2 C663.4,363.0 663.9,363.7 665.4,365.5 C666.9,367.3 669.1,370.3 670.7,372.2 C672.3,374.1 673.6,374.8 675.0,376.6 C676.4,378.4 677.7,380.9 679.0,383.2 C680.3,385.5 681.6,388.0 683.0,390.2 C684.4,392.4 686.0,394.4 687.5,396.6 C689.0,398.8 690.8,401.0 692.0,403.4 C693.2,405.8 693.7,408.9 694.6,411.0 C695.5,413.1 696.3,414.3 697.2,416.0 C698.1,417.7 699.1,419.8 699.8,421.3 C700.5,422.8 700.9,423.7 701.5,425.0 C702.1,426.3 702.6,427.3 703.2,429.0 C703.8,430.7 704.4,432.8 705.0,435.0 C705.6,437.2 706.1,439.6 706.7,442.0 C707.3,444.4 708.0,447.6 708.4,449.7 C708.8,451.8 708.7,453.6 709.3,454.9 C709.9,456.2 711.2,458.1 711.8,457.7 C712.4,457.3 712.6,453.8 713.0,452.3 C713.4,450.8 713.7,449.6 714.1,448.5 C714.5,447.4 714.5,446.9 715.3,445.4 C716.1,443.9 717.7,440.8 718.7,439.7 C719.7,438.6 720.5,438.8 721.5,438.6 C722.5,438.4 724.2,438.6 724.7,438.6" stroke="#e60000" stroke-width="1.65" stroke-dasharray="14.6 7.3" stroke-dashoffset="0"/>
<path d="M722.3,436.4 C723.4,437.8 726.8,442.4 728.7,444.9 C730.6,447.4 732.1,449.3 733.6,451.4 C735.1,453.5 735.9,454.9 737.5,457.3 C739.1,459.7 741.4,463.2 743.1,465.6 C744.8,468.0 746.1,469.6 747.7,471.7 C749.3,473.8 751.2,475.9 752.6,477.9 C754.0,479.9 754.9,481.7 756.2,483.9 C757.5,486.1 758.8,488.8 760.2,491.1 C761.6,493.4 763.1,495.6 764.7,497.8 C766.3,500.0 767.9,502.2 769.6,504.4 C771.4,506.6 773.3,509.0 775.2,511.2 C777.1,513.4 778.9,515.4 781.0,517.7 C783.1,520.0 785.2,522.2 787.7,524.9 C790.2,527.6 794.5,532.0 796.2,533.8 C797.9,535.6 797.5,535.2 797.7,535.5" stroke="#e60000" stroke-width="1.65" stroke-dasharray="14.6 7.3" stroke-dashoffset="0"/>
<path d="M602.1,325.0 C603.2,325.2 606.8,325.6 609.0,326.0 C611.2,326.4 613.5,327.0 615.5,327.6 C617.5,328.2 619.3,329.0 621.0,329.9 C622.7,330.8 624.3,331.6 625.8,332.7 C627.3,333.8 628.6,335.1 630.0,336.5 C631.4,337.9 632.8,339.5 634.4,341.3 C636.0,343.1 637.8,345.2 639.5,347.2 C641.2,349.2 643.2,351.6 644.8,353.4 C646.4,355.2 647.6,356.4 649.0,358.0 C650.4,359.6 651.6,361.0 653.4,362.9 C655.1,364.8 657.5,367.2 659.5,369.1 C661.5,371.1 663.6,372.9 665.4,374.6 C667.2,376.4 668.8,377.9 670.5,379.6 C672.2,381.3 674.0,383.0 675.8,385.0 C677.6,387.0 679.5,389.2 681.5,391.5 C683.5,393.8 686.0,396.6 687.8,398.7 C689.5,400.8 690.3,401.9 692.0,404.1 C693.7,406.3 696.4,409.8 698.1,411.8 C699.8,413.8 700.7,414.7 702.0,416.3 C703.3,417.9 704.8,419.9 705.8,421.3 C706.8,422.8 707.1,423.7 707.7,425.0 C708.3,426.3 708.7,427.3 709.3,429.0 C709.9,430.7 710.7,432.8 711.3,435.0 C711.9,437.2 712.5,440.2 713.0,442.0 C713.5,443.8 713.7,444.7 714.0,446.0 C714.3,447.3 714.5,448.0 714.8,449.7 C715.1,451.4 715.4,453.9 715.7,456.0 C716.0,458.1 716.1,460.3 716.5,462.6 C716.9,464.9 717.4,469.9 717.9,470.0 C718.4,470.1 718.8,465.2 719.2,463.0 C719.6,460.8 720.0,458.6 720.4,456.6 C720.8,454.6 721.0,452.7 721.3,451.0 C721.6,449.3 721.8,447.5 722.2,446.3 C722.6,445.1 723.3,443.8 723.9,443.7 C724.5,443.6 725.0,445.1 725.6,446.0 C726.2,446.9 726.0,447.1 727.3,448.9 C728.6,450.7 731.2,454.1 733.4,457.0 C735.5,459.9 738.1,463.5 740.2,466.6 C742.4,469.7 744.2,472.7 746.3,475.6 C748.4,478.5 750.6,480.6 752.9,483.8 C755.1,487.0 757.5,491.8 759.8,495.0 C762.1,498.2 764.2,500.6 766.5,503.3 C768.8,506.1 770.9,508.4 773.6,511.5 C776.4,514.6 779.8,518.5 783.0,521.8 C786.2,525.1 790.8,529.2 792.9,531.2 C795.0,533.2 795.1,533.5 795.5,534.0" stroke="#0000f0" stroke-width="1.75" stroke-dasharray="14.6 7.3" stroke-dashoffset="0"/>
</g>
<rect x="61.2" y="39.8" width="261.8" height="244.1" fill="none" stroke="#000" stroke-width="1.6" stroke-linejoin="round"/>
<path d="M100.2,39.8 v7.6 M100.2,283.9 v-7.6 M139.2,39.8 v7.6 M139.2,283.9 v-7.6 M178.2,39.8 v7.6 M178.2,283.9 v-7.6 M217.2,39.8 v7.6 M217.2,283.9 v-7.6 M256.2,39.8 v7.6 M256.2,283.9 v-7.6 M61.2,74.7 h7.8 M323.0,74.7 h-7.8 M61.2,109.5 h7.8 M323.0,109.5 h-7.8 M61.2,144.4 h7.8 M323.0,144.4 h-7.8 M61.2,179.3 h7.8 M323.0,179.3 h-7.8 M61.2,214.2 h7.8 M323.0,214.2 h-7.8 M61.2,249.0 h7.8 M323.0,249.0 h-7.8 " stroke="#000" stroke-width="1.8" fill="none"/>
<rect x="61.2" y="289.8" width="261.8" height="244.1" fill="none" stroke="#000" stroke-width="1.6" stroke-linejoin="round"/>
<path d="M100.2,289.8 v7.6 M100.2,533.9 v-7.6 M139.2,289.8 v7.6 M139.2,533.9 v-7.6 M178.2,289.8 v7.6 M178.2,533.9 v-7.6 M217.2,289.8 v7.6 M217.2,533.9 v-7.6 M256.2,289.8 v7.6 M256.2,533.9 v-7.6 M61.2,324.7 h7.8 M323.0,324.7 h-7.8 M61.2,359.5 h7.8 M323.0,359.5 h-7.8 M61.2,394.4 h7.8 M323.0,394.4 h-7.8 M61.2,429.3 h7.8 M323.0,429.3 h-7.8 M61.2,464.2 h7.8 M323.0,464.2 h-7.8 M61.2,499.0 h7.8 M323.0,499.0 h-7.8 " stroke="#000" stroke-width="1.8" fill="none"/>
<rect x="331.5" y="39.8" width="261.8" height="244.1" fill="none" stroke="#000" stroke-width="1.6" stroke-linejoin="round"/>
<path d="M370.5,39.8 v7.6 M370.5,283.9 v-7.6 M409.5,39.8 v7.6 M409.5,283.9 v-7.6 M448.5,39.8 v7.6 M448.5,283.9 v-7.6 M487.5,39.8 v7.6 M487.5,283.9 v-7.6 M526.5,39.8 v7.6 M526.5,283.9 v-7.6 M331.5,74.7 h7.8 M593.3,74.7 h-7.8 M331.5,109.5 h7.8 M593.3,109.5 h-7.8 M331.5,144.4 h7.8 M593.3,144.4 h-7.8 M331.5,179.3 h7.8 M593.3,179.3 h-7.8 M331.5,214.2 h7.8 M593.3,214.2 h-7.8 M331.5,249.0 h7.8 M593.3,249.0 h-7.8 " stroke="#000" stroke-width="1.8" fill="none"/>
<rect x="331.5" y="289.8" width="261.8" height="244.1" fill="none" stroke="#000" stroke-width="1.6" stroke-linejoin="round"/>
<path d="M370.5,289.8 v7.6 M370.5,533.9 v-7.6 M409.5,289.8 v7.6 M409.5,533.9 v-7.6 M448.5,289.8 v7.6 M448.5,533.9 v-7.6 M487.5,289.8 v7.6 M487.5,533.9 v-7.6 M526.5,289.8 v7.6 M526.5,533.9 v-7.6 M331.5,324.7 h7.8 M593.3,324.7 h-7.8 M331.5,359.5 h7.8 M593.3,359.5 h-7.8 M331.5,394.4 h7.8 M593.3,394.4 h-7.8 M331.5,429.3 h7.8 M593.3,429.3 h-7.8 M331.5,464.2 h7.8 M593.3,464.2 h-7.8 M331.5,499.0 h7.8 M593.3,499.0 h-7.8 " stroke="#000" stroke-width="1.8" fill="none"/>
<rect x="602.0" y="39.8" width="261.8" height="244.1" fill="none" stroke="#000" stroke-width="1.6" stroke-linejoin="round"/>
<path d="M641.0,39.8 v7.6 M641.0,283.9 v-7.6 M680.0,39.8 v7.6 M680.0,283.9 v-7.6 M719.0,39.8 v7.6 M719.0,283.9 v-7.6 M758.0,39.8 v7.6 M758.0,283.9 v-7.6 M797.0,39.8 v7.6 M797.0,283.9 v-7.6 M602.0,74.7 h7.8 M863.8,74.7 h-7.8 M602.0,109.5 h7.8 M863.8,109.5 h-7.8 M602.0,144.4 h7.8 M863.8,144.4 h-7.8 M602.0,179.3 h7.8 M863.8,179.3 h-7.8 M602.0,214.2 h7.8 M863.8,214.2 h-7.8 M602.0,249.0 h7.8 M863.8,249.0 h-7.8 " stroke="#000" stroke-width="1.8" fill="none"/>
<rect x="602.0" y="289.8" width="261.8" height="244.1" fill="none" stroke="#000" stroke-width="1.6" stroke-linejoin="round"/>
<path d="M641.0,289.8 v7.6 M641.0,533.9 v-7.6 M680.0,289.8 v7.6 M680.0,533.9 v-7.6 M719.0,289.8 v7.6 M719.0,533.9 v-7.6 M758.0,289.8 v7.6 M758.0,533.9 v-7.6 M797.0,289.8 v7.6 M797.0,533.9 v-7.6 M602.0,324.7 h7.8 M863.8,324.7 h-7.8 M602.0,359.5 h7.8 M863.8,359.5 h-7.8 M602.0,394.4 h7.8 M863.8,394.4 h-7.8 M602.0,429.3 h7.8 M863.8,429.3 h-7.8 M602.0,464.2 h7.8 M863.8,464.2 h-7.8 M602.0,499.0 h7.8 M863.8,499.0 h-7.8 " stroke="#000" stroke-width="1.8" fill="none"/>
<g font-family="'Liberation Serif', serif" fill="#2e2e2e">
<text transform="translate(144.1,33.9) scale(1.250,1)" font-size="20.6" fill="#1c1c1c" textLength="102.8" lengthAdjust="spacing">Granulation</text>
<text transform="translate(414.4,33.9) scale(1.250,1)" font-size="20.6" fill="#1c1c1c" textLength="89.4" lengthAdjust="spacing">Penumbra</text>
<text transform="translate(685.1,33.9) scale(1.250,1)" font-size="20.6" fill="#1c1c1c" textLength="57.8" lengthAdjust="spacing">Umbra</text>
<text transform="translate(61.5,553.9) scale(1.1,1)" font-size="13.6" text-anchor="middle" letter-spacing="0.9">0</text>
<text transform="translate(100.5,553.9) scale(1.1,1)" font-size="13.6" text-anchor="middle" letter-spacing="0.9">250</text>
<text transform="translate(139.5,553.9) scale(1.1,1)" font-size="13.6" text-anchor="middle" letter-spacing="0.9">500</text>
<text transform="translate(178.5,553.9) scale(1.1,1)" font-size="13.6" text-anchor="middle" letter-spacing="0.9">750</text>
<text transform="translate(217.5,553.9) scale(1.1,1)" font-size="13.6" text-anchor="middle" letter-spacing="0.9">1000</text>
<text transform="translate(256.5,553.9) scale(1.1,1)" font-size="13.6" text-anchor="middle" letter-spacing="0.9">1250</text>
<text transform="translate(192.4,569.6) scale(1.13,1)" font-size="14.5" text-anchor="middle" letter-spacing="1.2" xml:space="preserve">z [km]</text>
<text transform="translate(331.8,553.9) scale(1.1,1)" font-size="13.6" text-anchor="middle" letter-spacing="0.9">0</text>
<text transform="translate(370.8,553.9) scale(1.1,1)" font-size="13.6" text-anchor="middle" letter-spacing="0.9">250</text>
<text transform="translate(409.8,553.9) scale(1.1,1)" font-size="13.6" text-anchor="middle" letter-spacing="0.9">500</text>
<text transform="translate(448.8,553.9) scale(1.1,1)" font-size="13.6" text-anchor="middle" letter-spacing="0.9">750</text>
<text transform="translate(487.8,553.9) scale(1.1,1)" font-size="13.6" text-anchor="middle" letter-spacing="0.9">1000</text>
<text transform="translate(526.8,553.9) scale(1.1,1)" font-size="13.6" text-anchor="middle" letter-spacing="0.9">1250</text>
<text transform="translate(462.7,569.6) scale(1.13,1)" font-size="14.5" text-anchor="middle" letter-spacing="1.2" xml:space="preserve">z [km]</text>
<text transform="translate(602.3,553.9) scale(1.1,1)" font-size="13.6" text-anchor="middle" letter-spacing="0.9">0</text>
<text transform="translate(641.3,553.9) scale(1.1,1)" font-size="13.6" text-anchor="middle" letter-spacing="0.9">250</text>
<text transform="translate(680.3,553.9) scale(1.1,1)" font-size="13.6" text-anchor="middle" letter-spacing="0.9">500</text>
<text transform="translate(719.3,553.9) scale(1.1,1)" font-size="13.6" text-anchor="middle" letter-spacing="0.9">750</text>
<text transform="translate(758.3,553.9) scale(1.1,1)" font-size="13.6" text-anchor="middle" letter-spacing="0.9">1000</text>
<text transform="translate(797.3,553.9) scale(1.1,1)" font-size="13.6" text-anchor="middle" letter-spacing="0.9">1250</text>
<text transform="translate(733.2,569.6) scale(1.13,1)" font-size="14.5" text-anchor="middle" letter-spacing="1.2" xml:space="preserve">z [km]</text>
<text transform="translate(57.2,43.3) scale(1.17,1)" font-size="8.8" text-anchor="end" letter-spacing="0.3">−4</text>
<text transform="translate(45.6,48.7) scale(1.2,1)" font-size="13.5" text-anchor="end" letter-spacing="0.6">10</text>
<text transform="translate(57.2,74.8) scale(1.17,1)" font-size="8.8" text-anchor="end" letter-spacing="0.3">−5</text>
<text transform="translate(45.6,80.2) scale(1.2,1)" font-size="13.5" text-anchor="end" letter-spacing="0.6">10</text>
<text transform="translate(57.2,109.6) scale(1.17,1)" font-size="8.8" text-anchor="end" letter-spacing="0.3">−6</text>
<text transform="translate(45.6,115.0) scale(1.2,1)" font-size="13.5" text-anchor="end" letter-spacing="0.6">10</text>
<text transform="translate(57.2,144.5) scale(1.17,1)" font-size="8.8" text-anchor="end" letter-spacing="0.3">−7</text>
<text transform="translate(45.6,149.9) scale(1.2,1)" font-size="13.5" text-anchor="end" letter-spacing="0.6">10</text>
<text transform="translate(57.2,179.4) scale(1.17,1)" font-size="8.8" text-anchor="end" letter-spacing="0.3">−8</text>
<text transform="translate(45.6,184.8) scale(1.2,1)" font-size="13.5" text-anchor="end" letter-spacing="0.6">10</text>
<text transform="translate(57.2,214.3) scale(1.17,1)" font-size="8.8" text-anchor="end" letter-spacing="0.3">−9</text>
<text transform="translate(45.6,219.7) scale(1.2,1)" font-size="13.5" text-anchor="end" letter-spacing="0.6">10</text>
<text transform="translate(57.2,249.1) scale(1.17,1)" font-size="8.8" text-anchor="end" letter-spacing="0.3">−10</text>
<text transform="translate(40.1,254.5) scale(1.2,1)" font-size="13.5" text-anchor="end" letter-spacing="0.6">10</text>
<text transform="translate(57.2,278.6) scale(1.17,1)" font-size="8.8" text-anchor="end" letter-spacing="0.3">−11</text>
<text transform="translate(40.1,284.0) scale(1.2,1)" font-size="13.5" text-anchor="end" letter-spacing="0.6">10</text>
<text transform="translate(57.2,294.1) scale(1.17,1)" font-size="8.8" text-anchor="end" letter-spacing="0.3">7</text>
<text transform="translate(51.8,299.5) scale(1.2,1)" font-size="13.5" text-anchor="end" letter-spacing="0.6">10</text>
<text transform="translate(57.2,324.8) scale(1.17,1)" font-size="8.8" text-anchor="end" letter-spacing="0.3">6</text>
<text transform="translate(51.8,330.2) scale(1.2,1)" font-size="13.5" text-anchor="end" letter-spacing="0.6">10</text>
<text transform="translate(57.2,359.6) scale(1.17,1)" font-size="8.8" text-anchor="end" letter-spacing="0.3">5</text>
<text transform="translate(51.8,365.0) scale(1.2,1)" font-size="13.5" text-anchor="end" letter-spacing="0.6">10</text>
<text transform="translate(57.2,394.5) scale(1.17,1)" font-size="8.8" text-anchor="end" letter-spacing="0.3">4</text>
<text transform="translate(51.8,399.9) scale(1.2,1)" font-size="13.5" text-anchor="end" letter-spacing="0.6">10</text>
<text transform="translate(57.2,429.4) scale(1.17,1)" font-size="8.8" text-anchor="end" letter-spacing="0.3">3</text>
<text transform="translate(51.8,434.8) scale(1.2,1)" font-size="13.5" text-anchor="end" letter-spacing="0.6">10</text>
<text transform="translate(57.2,464.3) scale(1.17,1)" font-size="8.8" text-anchor="end" letter-spacing="0.3">2</text>
<text transform="translate(51.8,469.7) scale(1.2,1)" font-size="13.5" text-anchor="end" letter-spacing="0.6">10</text>
<text transform="translate(57.2,499.1) scale(1.17,1)" font-size="8.8" text-anchor="end" letter-spacing="0.3">1</text>
<text transform="translate(51.8,504.5) scale(1.2,1)" font-size="13.5" text-anchor="end" letter-spacing="0.6">10</text>
<text transform="translate(57.2,528.4) scale(1.17,1)" font-size="8.8" text-anchor="end" letter-spacing="0.3">0</text>
<text transform="translate(51.8,533.8) scale(1.2,1)" font-size="13.5" text-anchor="end" letter-spacing="0.6">10</text>
<text transform="translate(11.3,163.4) rotate(-90) scale(1.1,1)" font-size="14.2" text-anchor="middle" letter-spacing="1.1" xml:space="preserve"><tspan font-style="italic">ρ</tspan> [g cm<tspan font-size="7.6" dy="-5.6" letter-spacing="0">−3</tspan><tspan dy="5.6">]</tspan></text>
<text transform="translate(22.7,410) rotate(-90) scale(1.08,1)" font-size="14.2" text-anchor="middle" letter-spacing="0.8" xml:space="preserve">P<tspan font-size="9.6" dy="3.8" font-weight="bold" letter-spacing="0.3">gas</tspan><tspan dy="-3.8"> [dyn cm</tspan><tspan font-size="7.6" dy="-5.6" letter-spacing="0">−2</tspan><tspan dy="5.6">]</tspan></text>
</g>
<path d="M73.8,464.2 H100.2" stroke="#000" stroke-width="1.4"/>
<path d="M73.8,482.7 H81.3 M88.6,482.7 H96" stroke="#0000f0" stroke-width="1.6"/>
<path d="M73.8,499.3 H81.3 M88.6,499.3 H96" stroke="#e60000" stroke-width="1.6"/>
<g font-family="'Liberation Serif', serif" fill="#2e2e2e" font-size="14.4" letter-spacing="0.5">
<text transform="translate(113.0,464.5) scale(1.13,1)">P<tspan font-size="8.6" dy="3.4" font-weight="bold" letter-spacing="0.2">mhd</tspan><tspan dy="-3.4">(z)</tspan></text>
<text transform="translate(113.0,482.8) scale(1.13,1)">P<tspan font-size="8.6" dy="3.4" font-weight="bold" letter-spacing="0.55">mhs,2</tspan><tspan dy="-3.4">(z)</tspan></text>
<text transform="translate(113.0,499.4) scale(1.13,1)">P<tspan font-size="8.6" dy="3.4" font-weight="bold" letter-spacing="0.55">mhs,1</tspan><tspan dy="-3.4">(z)</tspan></text>
</g>
</svg>
</body></html>
